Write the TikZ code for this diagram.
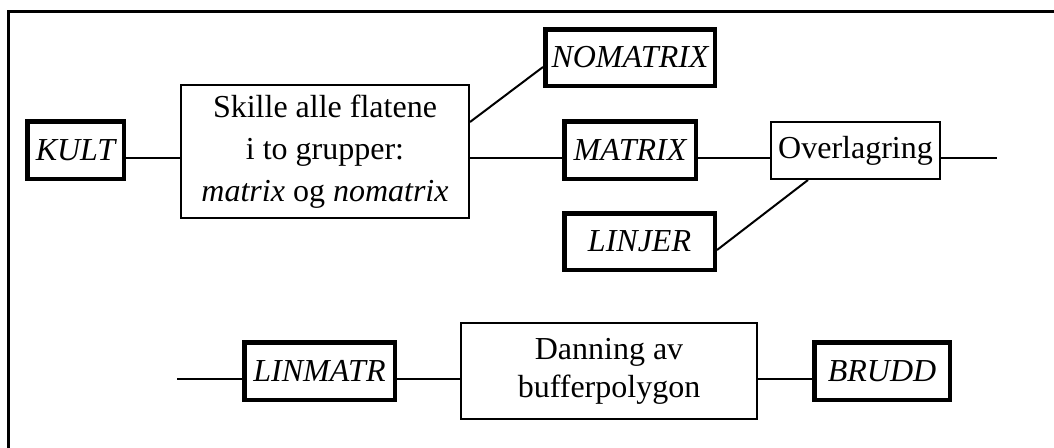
\documentclass[tikz,border=0pt]{standalone}
\usepackage{fontspec}
\setmainfont{Liberation Serif}
\begin{document}
\begin{tikzpicture}[x=1pt,y=-1pt,
  every node/.style={inner sep=0pt, align=center, font=\fontsize{32}{42}\selectfont},
  data/.style={draw, line width=4.5pt, font=\fontsize{32}{42}\selectfont\itshape},
  proc/.style={draw, line width=2pt},
  link/.style={line width=2pt}]
\useasboundingbox (0,0) rectangle (1054,447);
% outer frame
\draw[line width=3pt] (8,460) -- (8,11) -- (1060,11);

% upper chain
\node[data, minimum width=96.5pt, minimum height=57.5pt] (kult) at (75.5,150) {KULT};
\node[proc, minimum width=288pt, minimum height=133pt] (skille) at (325,151.5)
  {Skille alle flatene\\ i to grupper:\\ \textit{matrix} og \textit{nomatrix}};
\node[data, minimum width=169.5pt, minimum height=56.5pt] (nomatrix) at (630,57.5) {NOMATRIX};
\node[data, minimum width=131.5pt, minimum height=57.5pt] (matrix) at (630,150) {MATRIX};
\node[proc, minimum width=169pt, minimum height=57pt] (overl) at (855.5,150.5) {Overlagring};
\node[data, minimum width=150.5pt, minimum height=56.5pt] (linjer) at (639.5,241.5) {LINJER};
\coordinate (outA) at (997,158);

% lower chain
\coordinate (inB) at (177,379);
\node[data, minimum width=150.5pt, minimum height=57.5pt] (linmatr) at (319.5,371) {LINMATR};
\node[proc, minimum width=296pt, minimum height=96pt, font=\fontsize{32}{38}\selectfont] (danning) at (609,371)
  {Danning av\\ bufferpolygon};
\node[data, minimum width=135.5pt, minimum height=57.5pt] (brudd) at (882,371) {BRUDD};

% connectors (shifts are in page direction: negative = downwards)
\draw[link] ([yshift=-8pt]kult.east) -- ([yshift=-8pt]kult.east -| skille.west);
\draw[link] ([yshift=-6.5pt]skille.east) -- ([yshift=-6.5pt]skille.east -| matrix.west);
\draw[link] ([yshift=29.5pt]skille.east) -- ([yshift=-9.5pt]nomatrix.west);
\draw[link] ([yshift=-8pt]matrix.east) -- ([yshift=-8pt]matrix.east -| overl.west);
\draw[link] (overl.east |- outA) -- (outA);
\draw[link] ([yshift=-8.5pt]linjer.east) -- ([xshift=-47.5pt]overl.south);
\draw[link] (inB) -- (inB -| linmatr.west);
\draw[link] ([yshift=-8pt]linmatr.east) -- ([yshift=-8pt]linmatr.east -| danning.west);
\draw[link] ([yshift=-8pt]danning.east) -- ([yshift=-8pt]danning.east -| brudd.west);
\end{tikzpicture}
\end{document}
